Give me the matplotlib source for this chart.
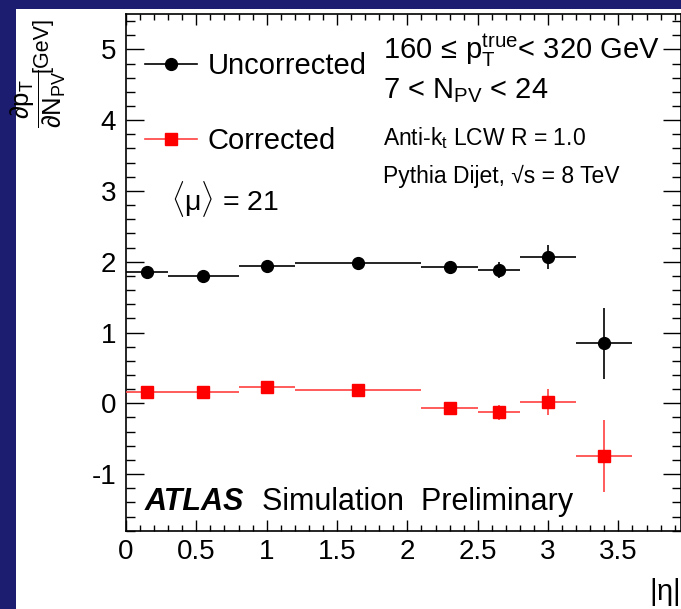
import matplotlib
matplotlib.use("Agg")
import matplotlib.pyplot as plt
from matplotlib.lines import Line2D
from matplotlib.patches import Rectangle
import numpy as np

# ---------------- data ----------------
bin_edges = [0.0, 0.3, 0.8, 1.2, 2.1, 2.5, 2.8, 3.2, 3.6]
uncorr = [1.85, 1.80, 1.94, 1.98, 1.92, 1.88, 2.07, 0.85]
uncorr_err = [0.03, 0.03, 0.03, 0.03, 0.03, 0.11, 0.17, 0.50]
corr = [0.16, 0.16, 0.23, 0.19, -0.07, -0.13, 0.02, -0.74]
corr_err = [0.03, 0.03, 0.03, 0.03, 0.03, 0.11, 0.18, 0.51]
y_ticks = [-1, 0, 1, 2, 3, 4, 5]
x_ticks = [0, 0.5, 1, 1.5, 2, 2.5, 3, 3.5]
x_tick_labels = ["0", "0.5", "1", "1.5", "2", "2.5", "3", "3.5"]

plt.rcParams['font.family'] = ['Liberation Sans', 'DejaVu Sans']
plt.rcParams['mathtext.fontset'] = 'custom'
plt.rcParams['mathtext.rm'] = 'Liberation Sans'
plt.rcParams['mathtext.it'] = 'Liberation Sans'
plt.rcParams['mathtext.bf'] = 'Liberation Sans:bold'

W, H = 681, 609
fig = plt.figure(figsize=(W / 100, H / 100), dpi=100)
fig.patch.set_facecolor('#1c1c70')
fig.patches.append(Rectangle((16 / W, 0), 1 - 16 / W, 1 - 9 / H, transform=fig.transFigure,
                             facecolor='white', edgecolor='none', zorder=-5))

def fx(px):
    return px / W

def fy(py):
    return 1 - py / H

ax = fig.add_axes([fx(126), fy(530.7), fx(681) - fx(126), fy(14) - fy(530.7)])
ax.set_zorder(2)
ax.set_xlim(0, 3.945)
ax.set_ylim(-1.8, 5.5)

edges = np.array(bin_edges)
centers = (edges[:-1] + edges[1:]) / 2
halfw = (edges[1:] - edges[:-1]) / 2

ax.errorbar(centers, uncorr, yerr=uncorr_err, xerr=halfw, fmt='o', color='black',
            ms=8.5, elinewidth=1.2, capsize=0, zorder=3)
ax.errorbar(centers, corr, yerr=corr_err, xerr=halfw, fmt='s', color='#ff0000',
            ecolor='#ff4040', ms=8, elinewidth=1.2, capsize=0, zorder=3)

ax.set_xticks(x_ticks)
ax.set_xticklabels(x_tick_labels)
ax.set_yticks(y_ticks)
ax.set_yticklabels([str(v) for v in y_ticks])
ax.set_xticks(np.arange(0, 3.95, 0.1), minor=True)
ax.set_yticks(np.arange(-1.8, 5.51, 0.2), minor=True)
ax.tick_params(axis='y', which='major', direction='in', length=13, width=1.0,
               left=True, right=True, labelsize=20, pad=7)
ax.tick_params(axis='y', which='minor', direction='in', length=6.5, width=1.0,
               left=True, right=True)
ax.tick_params(axis='x', which='major', direction='in', length=8, width=1.0,
               top=True, bottom=True, labelsize=20, pad=6)
ax.tick_params(axis='x', which='minor', direction='in', length=4, width=1.0,
               top=True, bottom=True)
for s in ax.spines.values():
    s.set_linewidth(1.2)

handles = [Line2D([], [], color='black', marker='o', ms=8.5, lw=1.2),
           Line2D([], [], color='#ff4040', marker='s', mfc='#ff0000', mec='#ff0000', ms=8, lw=1.2)]
ax.legend(handles, ['Uncorrected', 'Corrected'], loc='upper left',
          bbox_to_anchor=(fx(145), fy(52)), bbox_transform=fig.transFigure,
          frameon=False, fontsize=21, handlelength=1.78, handletextpad=0.37,
          labelspacing=1.62, borderpad=0, borderaxespad=0)

fig.text(fx(383), fy(59.3), r'160$\,\leq\,$p$_{\mathrm{T}}^{\mathrm{true}}$< 320 GeV',
         fontsize=21, va='baseline', ha='left', zorder=5)
fig.text(fx(383), fy(98), r'7 < N$_{\mathrm{PV}}$ < 24', fontsize=21, va='baseline', ha='left', zorder=5)
fig.text(fx(383), fy(145), r'Anti-k$_{\mathrm{t}}$ LCW R = 1.0', fontsize=16.5,
         va='baseline', ha='left', zorder=5)
fig.text(fx(383), fy(183), 'Pythia Dijet, √s = 8 TeV', fontsize=16.5,
         va='baseline', ha='left', zorder=5)
fig.text(fx(171), fy(210), r'$\langle\mu\rangle$ = 21', fontsize=20.5, va='baseline', ha='left', zorder=5)
fig.text(fx(145), fy(510), 'ATLAS', fontsize=22, fontweight='bold', fontstyle='italic',
         va='baseline', ha='left', zorder=5)
fig.text(fx(262), fy(510), 'Simulation  Preliminary', fontsize=22, va='baseline', ha='left', zorder=5)
fig.text(fx(680), fy(576), r'$|\eta|$', fontsize=21, va='top', ha='right', zorder=5)
fig.text(fx(38), fy(99), r'$\dfrac{\partial \mathrm{p}_{\mathrm{T}}}{\partial \mathrm{N}_{\mathrm{PV}}}$',
         fontsize=18.5, rotation=90, va='center', ha='center', zorder=5)
fig.text(fx(42), fy(44), '[GeV]', fontsize=15.5, rotation=90, va='center', ha='center', zorder=5)

fig.savefig('out.png', dpi=100, facecolor=fig.get_facecolor())
